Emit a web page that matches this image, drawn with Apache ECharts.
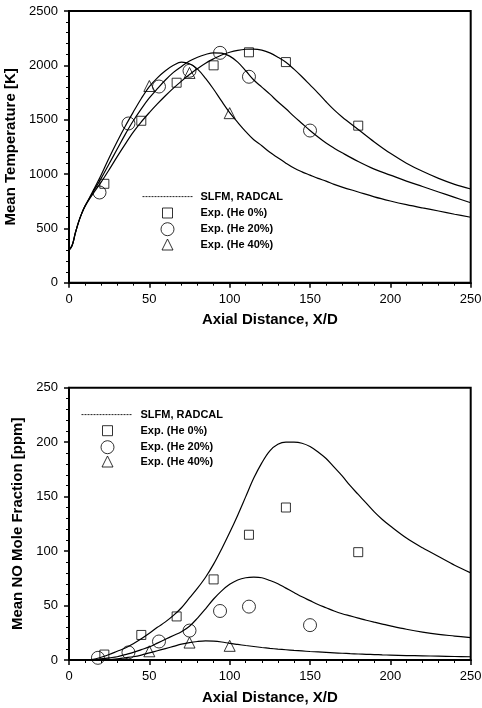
<!DOCTYPE html>
<html>
<head>
<meta charset="utf-8">
<script src="https://cdn.jsdelivr.net/npm/echarts@6/dist/echarts.min.js"></script>
<style>
html,body{margin:0;padding:0;background:#fff;}
#chart{width:482px;height:708px;}
</style>
</head>
<body>
<div id="chart"></div>
<script>
// ---- Top chart: Mean Temperature [K] ----
const tempCurveX = [0,2,4,6,8,10,15,20,25,30,35,40,45,50,55,60,65,70,75,80,85,90,95,100,105,110,115,120,125,130,135,140,145,150,155,160,165,170,180,190,200,210,220,230,240,250];
const tempCurveHe0 = [300,345,460,560,640,705,820,925,1040,1160,1275,1385,1480,1565,1645,1720,1790,1855,1915,1970,2020,2060,2095,2120,2138,2148,2150,2140,2115,2075,2028,1965,1895,1820,1745,1665,1590,1525,1410,1295,1190,1100,1025,960,905,862];
const tempCurveHe20 = [300,345,460,560,640,705,835,960,1095,1230,1365,1490,1600,1700,1785,1865,1935,1990,2040,2075,2100,2115,2112,2085,2030,1950,1865,1800,1735,1665,1600,1530,1465,1400,1340,1285,1238,1195,1115,1045,990,935,885,835,785,736];
const tempCurveHe40 = [300,345,460,560,640,705,845,990,1150,1300,1440,1570,1695,1805,1885,1950,2000,2030,2015,1965,1880,1780,1670,1565,1475,1390,1315,1260,1200,1150,1100,1055,1020,990,960,935,905,880,835,790,752,718,688,660,630,602];

const tempExpX_He0 = [22,45,67,90,112,135,180];
const tempExp_He0 = [910,1490,1840,2000,2120,2030,1445];
const tempExpX_He20 = [19,37,56,75,94,112,150];
const tempExp_He20 = [830,1465,1805,1950,2115,1895,1400];
const tempExpX_He40 = [50,75,100];
const tempExp_He40 = [1810,1930,1560];

// ---- Bottom chart: Mean NO Mole Fraction [ppm] ----
const noCurveX = [0,10,15,20,25,30,35,40,45,50,55,60,65,70,75,80,85,90,95,100,105,110,115,120,125,130,135,140,145,150,155,160,165,170,175,180,185,190,195,200,210,220,230,240,250];
const noCurveHe0 = [0,0,0.5,2.5,5,8,11,15,19.5,24.5,30,35,41,48,57,66,76,88,102,117,133,150,167,181,192,198,200,200,199,196,191,185,177,169,160,152,144,136,129,123,112,103,95,87,80];
const noCurveHe20 = [0,0,0,1,2,3,5,7,9.5,12,15.5,19,22.5,26,31,38.5,47,56,63.5,69.5,73.5,75.5,76,75.5,73,70,66,62,58,54.5,51,48,45,42.5,40.5,38.5,36.5,34.7,33,31.3,28.2,25.6,23.5,22,20.5];
const noCurveHe40 = [0,0,0,0,0.5,1,2,3,4.5,6.5,8.5,10.5,12.5,14.5,16,17,17.5,17.3,16.5,15.3,14.3,13.3,12.4,11.5,10.7,10,9.4,8.8,8.3,7.8,7.4,7,6.6,6.2,5.8,5.5,5.2,5,4.7,4.5,4.1,3.8,3.5,3.2,3];

const noExpX_He0 = [22,45,67,90,112,135,180];
const noExp_He0 = [5,23,40,74,115,140,99];
const noExpX_He20 = [18,37,56,75,94,112,150];
const noExp_He20 = [2,7,17,27,45,49,32];
const noExpX_He40 = [50,75,100];
const noExp_He40 = [8,16,13];

// axis ticks
const xTickInterval = 50;
const tempTickInterval = 500;
const noTickInterval = 50;

const LINE_NAME = 'SLFM, RADCAL';
const N0 = 'Exp. (He 0%)';
const N20 = 'Exp. (He 20%)';
const N40 = 'Exp. (He 40%)';

const FONT = '"Liberation Sans", Arial, Helvetica, sans-serif';
const zip = (xs, ys) => xs.map((x, i) => [x, ys[i]]);

function xAxisCfg(gridIndex) {
  return {
    gridIndex, type: 'value', min: 0, max: 250, interval: xTickInterval,
    name: 'Axial Distance, X/D', nameLocation: 'middle', nameGap: 30,
    nameTextStyle: {fontFamily: FONT, fontSize: 15, fontWeight: 'bold', color: '#000'},
    axisLine: {show: true, lineStyle: {color: '#000', width: 2}},
    axisTick: {show: true, length: 5, lineStyle: {color: '#000', width: 1.5}},
    minorTick: {show: true, splitNumber: 5, length: 3, lineStyle: {color: '#000', width: 1}},
    axisLabel: {fontFamily: FONT, fontSize: 13, color: '#000', margin: 10, formatter: v => String(v)},
    splitLine: {show: false}, minorSplitLine: {show: false}
  };
}
function yAxisCfg(gridIndex, name, max, interval) {
  return {
    gridIndex, type: 'value', min: 0, max, interval,
    name, nameLocation: 'middle', nameGap: 44,
    nameTextStyle: {fontFamily: FONT, fontSize: 15, fontWeight: 'bold', color: '#000'},
    axisLine: {show: true, lineStyle: {color: '#000', width: 2}},
    axisTick: {show: true, length: 5, lineStyle: {color: '#000', width: 1.5}},
    minorTick: {show: true, splitNumber: 5, length: 3, lineStyle: {color: '#000', width: 1}},
    axisLabel: {fontFamily: FONT, fontSize: 13, color: '#000', margin: 11, formatter: v => String(v)},
    splitLine: {show: false}, minorSplitLine: {show: false}
  };
}
function curve(xs, ys, gi, legendName) {
  return {
    name: legendName, type: 'line', xAxisIndex: gi, yAxisIndex: gi,
    data: zip(xs, ys), symbol: 'none', showSymbol: false, smooth: 0.35,
    lineStyle: {color: '#000', width: 1.2}, itemStyle: {color: '#000'},
    z: 2, silent: true
  };
}
function pts(name, xs, ys, gi, symbol, size) {
  return {
    name, type: 'scatter', xAxisIndex: gi, yAxisIndex: gi,
    data: zip(xs, ys), symbol, symbolSize: size,
    itemStyle: {color: 'rgba(255,255,255,0)', borderColor: '#000', borderWidth: 1},
    z: 3, silent: true
  };
}
function lg(name, left, top, w, h, pad, isLine) {
  return {
    data: [name], left, top, itemWidth: w, itemHeight: h, padding: 0,
    selectedMode: false, orient: 'horizontal',
    itemStyle: isLine ? {color: 'rgba(0,0,0,0)', borderColor: 'rgba(0,0,0,0)', borderWidth: 0, opacity: 0}
                      : {borderWidth: 1, borderColor: '#000'},
    lineStyle: {width: 1, color: '#222', type: [2, 1], opacity: 1},
    textStyle: {fontFamily: FONT, fontSize: 11, fontWeight: 'bold', color: '#000', padding: [0, 0, 0, pad]}
  };
}

const gridCommon = {left: 69, width: 401.7, show: true, borderColor: '#000', borderWidth: 2,
  backgroundColor: 'transparent', containLabel: false, outerBoundsMode: 'none'};

const chart = echarts.init(document.getElementById('chart'), null, {renderer: 'canvas'});
chart.setOption({
  animation: false,
  backgroundColor: '#fff',
  grid: [
    Object.assign({}, gridCommon, {top: 11, height: 271.7}),
    Object.assign({}, gridCommon, {top: 387.7, height: 272.3})
  ],
  xAxis: [xAxisCfg(0), xAxisCfg(1)],
  yAxis: [
    yAxisCfg(0, 'Mean Temperature [K]', 2500, tempTickInterval),
    yAxisCfg(1, 'Mean NO Mole Fraction [ppm]', 250, noTickInterval)
  ],
  legend: [
    lg(LINE_NAME, 142, 191, 50, 14, 3, true),
    lg(N0, 162, 207.5, 10, 10, 23),
    lg(N20, 160.5, 222.2, 13, 13, 21.5),
    lg(N40, 161.5, 238.5, 11, 11, 22.5),
    lg(LINE_NAME, 81, 409, 50, 14, 4, true),
    lg(N0, 102, 425.2, 10, 10, 23),
    lg(N20, 100.5, 440.2, 13, 13, 21.5),
    lg(N40, 101.5, 455.5, 11, 11, 22.5)
  ],
  series: [
    curve(tempCurveX, tempCurveHe0, 0, LINE_NAME),
    curve(tempCurveX, tempCurveHe20, 0, LINE_NAME),
    curve(tempCurveX, tempCurveHe40, 0, LINE_NAME),
    pts(N0, tempExpX_He0, tempExp_He0, 0, 'rect', 9),
    pts(N20, tempExpX_He20, tempExp_He20, 0, 'circle', 13),
    pts(N40, tempExpX_He40, tempExp_He40, 0, 'triangle', 11),
    curve(noCurveX, noCurveHe0, 1, LINE_NAME),
    curve(noCurveX, noCurveHe20, 1, LINE_NAME),
    curve(noCurveX, noCurveHe40, 1, LINE_NAME),
    pts(N0, noExpX_He0, noExp_He0, 1, 'rect', 9),
    pts(N20, noExpX_He20, noExp_He20, 1, 'circle', 13),
    pts(N40, noExpX_He40, noExp_He40, 1, 'triangle', 11)
  ]
});
</script>
</body>
</html>
